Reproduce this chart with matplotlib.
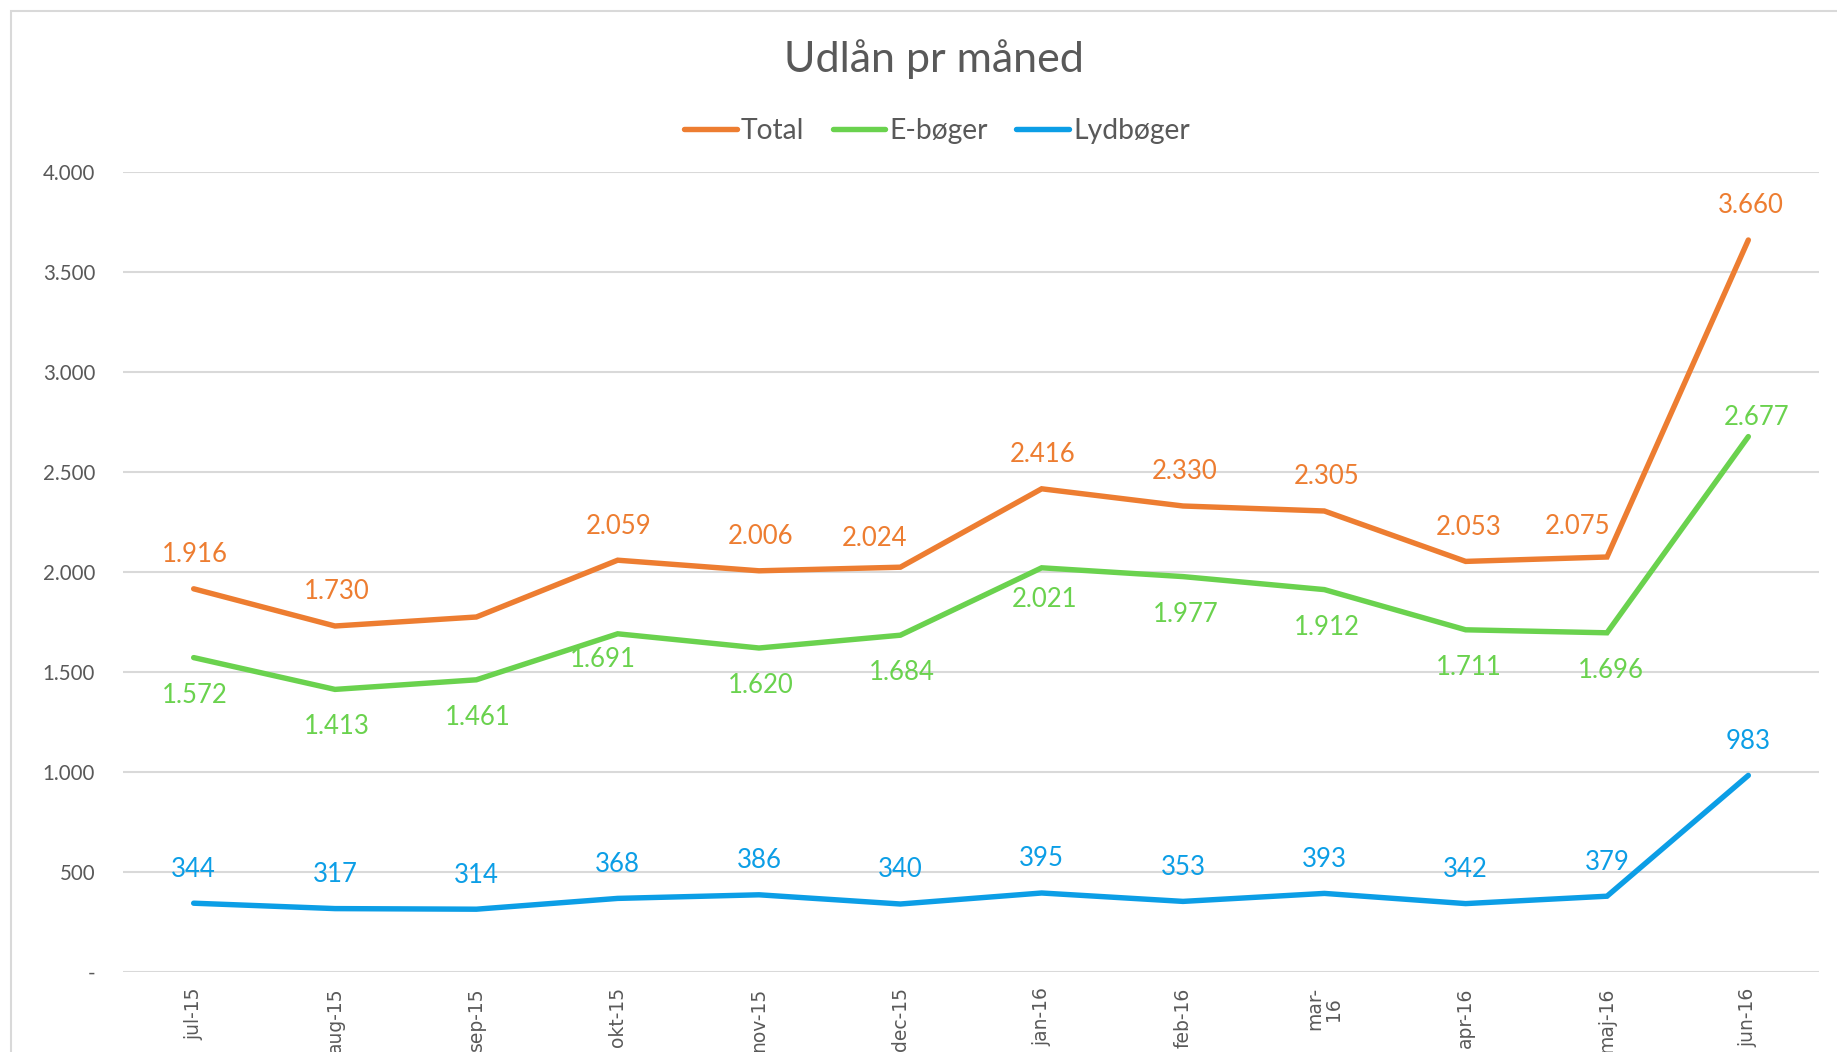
import matplotlib
matplotlib.use('Agg')
import matplotlib.pyplot as plt
from matplotlib.patches import Rectangle
from matplotlib.ticker import FuncFormatter

# data
months = ['jul-15', 'aug-15', 'sep-15', 'okt-15', 'nov-15', 'dec-15',
          'jan-16', 'feb-16', 'mar-\n16', 'apr-16', 'maj-16', 'jun-16']
total = [1916, 1730, 1775, 2059, 2006, 2024, 2416, 2330, 2305, 2053, 2075, 3660]
eboger = [1572, 1413, 1461, 1691, 1620, 1684, 2021, 1977, 1912, 1711, 1696, 2677]
lydboger = [344, 317, 314, 368, 386, 340, 395, 353, 393, 342, 379, 983]

# label offsets (points); None = no label
total_off = [(1, 24.5), (1, 24.5), None, (1, 24.5), (1, 24.5), (-18.5, 21),
             (1, 24.5), (1, 24.5), (2, 24.5), (2, 24.5), (-21, 22), (2, 24.5)]
eboger_off = [(1, -27), (1, -27), (1, -27), (-11, -18.5), (1, -27), (1, -27),
              (2, -23), (2, -27), (2, -27), (2, -27), (3, -27), (6, 14)]
lyd_off = [(0, 24.5)] * 12

ORANGE = '#ED7D31'
GREEN = '#6AD24E'
BLUE = '#0C9EE6'
GREY = '#595959'
GRID = '#D9D9D9'
FONT = ['Lato', 'DejaVu Sans']

W, H = 1837, 1052
fig = plt.figure(figsize=(W / 100, H / 100), dpi=100)
fig.patch.set_facecolor('white')

# chart area border (cut off on the right and bottom)
fig.add_artist(Rectangle((11 / W, -0.1), 1.2, 1.1 - 11 / H, transform=fig.transFigure,
                         fill=False, edgecolor=GRID, linewidth=1.5))

ax = fig.add_axes([123 / W, (H - 972) / H, (1819 - 123) / W, 800 / H])
x = list(range(len(months)))

series = [(total, 'Total', ORANGE, total_off),
          (eboger, 'E-bøger', GREEN, eboger_off),
          (lydboger, 'Lydbøger', BLUE, lyd_off)]

for vals, name, col, offs in series:
    ax.plot(x, vals, color=col, linewidth=3.9, solid_capstyle='round',
            solid_joinstyle='miter', label=name, zorder=3)
    for xi, v, off in zip(x, vals, offs):
        if off is None:
            continue
        ax.annotate(f'{v:,}'.replace(',', '.'), (xi, v), xytext=off,
                    textcoords='offset points', ha='center', va='center',
                    color=col, fontsize=18.5, family=FONT)

ax.set_xlim(-0.5, len(months) - 0.5)
ax.set_ylim(0, 4000)
ax.set_yticks(range(0, 4001, 500))
ax.yaxis.set_major_formatter(FuncFormatter(
    lambda v, p: '-' if v == 0 else f'{int(v):,}'.replace(',', '.')))
ax.grid(axis='y', color=GRID, linewidth=1.5)
ax.set_axisbelow(True)
for s in ax.spines.values():
    s.set_visible(False)

ax.set_xticks(x)
ax.set_xticklabels(months, rotation=90, fontsize=13.5, color=GREY,
                   family='DejaVu Sans', linespacing=0.95)
ax.tick_params(axis='x', length=0, pad=11)
ax.tick_params(axis='y', length=0, pad=20, labelsize=14.8, labelcolor=GREY)
for t in ax.get_yticklabels():
    t.set_family(FONT)

fig.text(934 / W, 1 - 59 / H, 'Udlån pr måned', ha='center', va='center',
         fontsize=31, color=GREY, family=FONT)

leg = fig.legend(loc='center', bbox_to_anchor=(937 / W, 1 - 131 / H), ncol=3,
                 frameon=False, handlelength=1.87, handletextpad=0.15,
                 columnspacing=1.0, prop={'family': FONT, 'size': 20.3})
for t in leg.get_texts():
    t.set_color(GREY)

fig.savefig('out.png', dpi=100, facecolor='white')
